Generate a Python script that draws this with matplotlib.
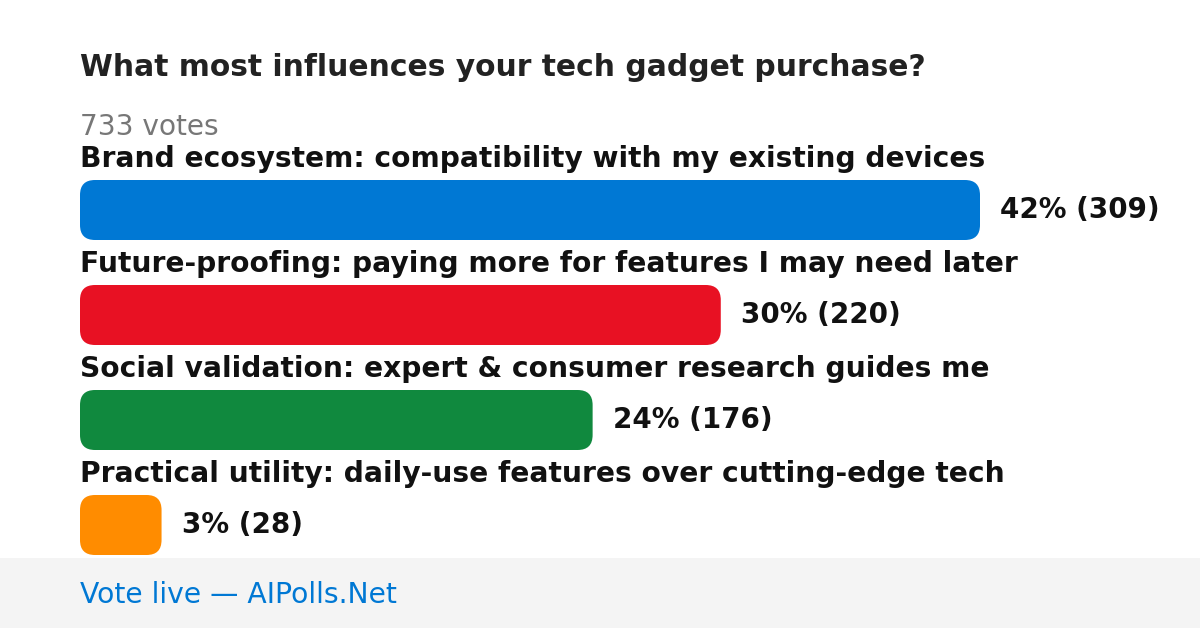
import matplotlib
matplotlib.use("Agg")
import matplotlib.pyplot as plt
from matplotlib.patches import FancyBboxPatch, Rectangle

plt.rcParams['font.family'] = ['DejaVu Sans']

title = "What most influences your tech gadget purchase?"
total_votes = 733
labels = [
    "Brand ecosystem: compatibility with my existing devices",
    "Future-proofing: paying more for features I may need later",
    "Social validation: expert & consumer research guides me",
    "Practical utility: daily-use features over cutting-edge tech",
]
percents = [42, 30, 24, 3]
counts = [309, 220, 176, 28]
colors = ["#0078d4", "#e81123", "#10893e", "#ff8c00"]

W, H = 1200, 628
fig = plt.figure(figsize=(W / 100, H / 100), dpi=100)
ax = fig.add_axes([0, 0, 1, 1])
ax.set_xlim(0, W)
ax.set_ylim(H, 0)
ax.axis("off")

# pixel layout
left = 80
max_w = 900
bar_h = 60
row_step = 105
first_bar = 180
rad = 15

ax.text(left, 68, title, fontsize=21.4, fontweight="bold", color="#222222", va="center")
ax.text(left, 127, f"{total_votes} votes", fontsize=20.2, color="#777777", va="center")

scale = max_w / max(counts)
for i, (lab, pct, n, c) in enumerate(zip(labels, percents, counts, colors)):
    y0 = first_bar + i * row_step
    w = n * scale
    ax.text(left, y0 - 21, lab, fontsize=20.25, fontweight="bold", color="#111111", va="center")
    ax.add_patch(FancyBboxPatch((left + rad, y0 + rad), w - 2 * rad, bar_h - 2 * rad,
                                boxstyle=f"round,pad={rad}", fc=c, ec="none"))
    ax.text(left + w + 20, y0 + bar_h / 2, f"{pct}% ({n})", fontsize=20, fontweight="bold",
            color="#111111", va="center")

# footer
ax.add_patch(Rectangle((0, 558), W, H - 558, fc="#f4f4f4", ec="none"))
ax.text(left, 595, "Vote live \u2014 AIPolls.Net", fontsize=20.3, color="#0078d4", va="center")

fig.savefig("out.png", dpi=100, facecolor="white")
